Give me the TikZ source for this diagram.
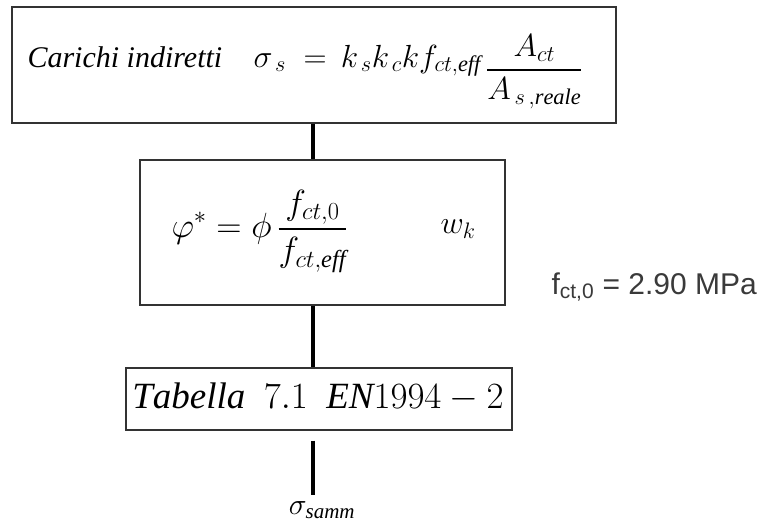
\RequirePackage{fix-cm}
\documentclass[tikz,border=0pt]{standalone}
\usepackage{amsmath,amssymb}
\usepackage{fontspec}
\setmainfont{Liberation Serif}
\newfontfamily\arialfont{Liberation Sans}
\usepackage{tikz}
\usetikzlibrary{positioning,calc}
\definecolor{framegray}{HTML}{333333}
\definecolor{labelgray}{HTML}{3A3A3A}
\tikzset{
    box/.style={draw=framegray, line width=1.3pt, inner sep=0pt},
    link/.style={draw, line width=3.2pt},
}

\begin{document}
\begin{tikzpicture}[x=1pt, y=-1pt]
        \useasboundingbox (0,0) rectangle (764,528);
        \fill[white] (0,0) rectangle (764,528);
        
        % boxes
        \node[box, minimum width=604pt, minimum height=116pt] (load) at (314,65) {};
        \node[box, minimum width=365pt, minimum height=145pt] (phi) at (322.5,232.5) {};
        \node[box, minimum width=386pt, minimum height=62pt] (tab) at (319,399) {};
        
        % contents
        \node[anchor=base west, font=\fontsize{30}{34}\selectfont] (loadtxt) at (24,67)
            {\textit{Carichi indiretti}};
        \node[anchor=base west, font=\fontsize{32}{37}\selectfont] (sigmas) at (250,67)
            {$\sigma_{\,s} \;=\, k_{\,s} k_{\,c} k f_{ct,\mathit{eff}}\,\raisebox{-11pt}{$\displaystyle\frac{A_{ct}}{A_{\,s\,,\mathit{reale}}}$}$};
        \node[anchor=west, font=\fontsize{35}{40}\selectfont] (phitxt) at (168,231)
            {$\displaystyle \varphi^* = \phi\,\frac{f_{ct,0}}{f_{ct,\mathit{eff}}}$};
        \node[anchor=west, font=\fontsize{32}{36}\selectfont] (wk) at (437,229) {$w_k$};
        \node[font=\fontsize{37}{42}\selectfont] (tabtxt) at (318,397)
            {$\mathit{Tabella}\ \ 7.1\ \ \mathit{EN}1994-2$};
        \node[anchor=west, text=labelgray, font=\arialfont\fontsize{30}{34}\selectfont] (fct) at (548,287)
            {f\textsubscript{ct,0} = 2.90 MPa};
        \node[font=\fontsize{30}{34}\selectfont, inner sep=0pt] (samm) at (322,510) {$\sigma_{\mathit{samm}}$};
        
        % connectors
        \coordinate (x) at (313,0);
        \draw[link] (load.south -| x) -- (phi.north -| x);
        \draw[link] (phi.south -| x) -- (tab.north -| x);
        \draw[link] ([yshift=-10pt]tab.south -| x) -- ([yshift=6pt]samm.north -| x);
    \end{tikzpicture}
\end{document}
